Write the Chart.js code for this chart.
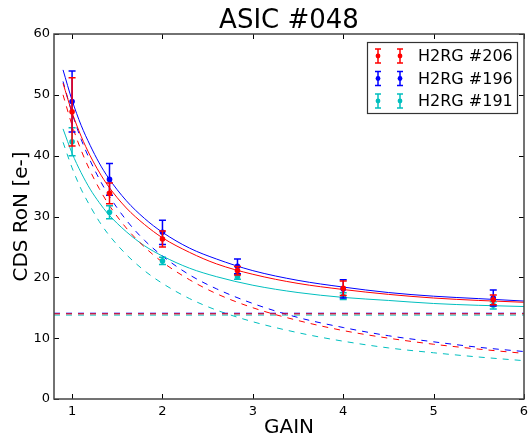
<!DOCTYPE html>
<html>
<head>
<meta charset="utf-8">
<script src="https://cdn.jsdelivr.net/npm/chart.js@4"></script>
<style>
  html, body { margin: 0; padding: 0; background: #fff; }
  canvas { display: block; }
</style>
</head>
<body>
<canvas id="ronChart" width="528" height="437"></canvas>
<script>
// measured points
const gains = [1, 1.414, 2, 2.83, 4, 5.66];
const seriesNames = ["H2RG #206", "H2RG #196", "H2RG #191"];
const seriesColors = ["#ff0000", "#0000ff", "#00bfbf"];

const ron206 = [47.2, 33.8, 26.3, 21.1, 18.2, 16.3];
const err206 = [5.6, 1.7, 1.3, 0.7, 1.2, 0.8];
const ron196 = [48.9, 36.1, 27.4, 21.8, 18.1, 16.6];
const err196 = [5.0, 2.6, 2.0, 1.2, 1.5, 1.3];
const ron191 = [42.3, 30.7, 22.7, 20.1, 16.9, 15.4];
const err191 = [2.3, 1.05, 0.6, 0.4, 0.55, 0.6];

// fitted curves
const fitGain = [0.9, 1, 1.1, 1.2, 1.3, 1.4, 1.6, 1.8, 2, 2.3, 2.6, 3, 3.5, 4, 4.5, 5, 5.5, 6];
const fit206 = [51.9, 47.1, 43.2, 40.0, 37.3, 35.0, 31.4, 28.7, 26.5, 24.1, 22.2, 20.5, 19.0, 18.0, 17.2, 16.6, 16.2, 15.9];
const gain206 = [50.0, 45.0, 40.9, 37.5, 34.6, 32.1, 28.1, 25.0, 22.5, 19.6, 17.3, 15.0, 12.9, 11.25, 10.0, 9.0, 8.2, 7.5];
const fit196 = [54.1, 49.1, 45.0, 41.7, 38.8, 36.4, 32.6, 29.7, 27.4, 24.8, 23.0, 21.1, 19.5, 18.4, 17.5, 16.9, 16.5, 16.1];
const gain196 = [52.2, 47.0, 42.7, 39.2, 36.2, 33.6, 29.4, 26.1, 23.5, 20.4, 18.1, 15.7, 13.4, 11.75, 10.4, 9.4, 8.5, 7.8];
const fit191 = [44.4, 40.4, 37.2, 34.5, 32.3, 30.4, 27.5, 25.2, 23.5, 21.5, 20.1, 18.7, 17.5, 16.7, 16.2, 15.7, 15.4, 15.2];
const gain191 = [42.2, 38.0, 34.5, 31.7, 29.2, 27.1, 23.75, 21.1, 19.0, 16.5, 14.6, 12.7, 10.9, 9.5, 8.4, 7.6, 6.9, 6.3];
const floorLevels = [14.0, 14.1, 13.8];

const xRange = [0.8, 6];
const xTicks = [1, 2, 3, 4, 5, 6];
const yTicks = [0, 10, 20, 30, 40, 50, 60];
const chartTitle = "ASIC #048";

const measured = [ron206, ron196, ron191];
const errors = [err206, err196, err191];
const fits = [fit206, fit196, fit191];
const gainTerms = [gain206, gain196, gain191];

function pts(xs, ys) {
    return xs.map((x, i) => ({ x: x, y: ys[i] }));
}

const datasets = [];
seriesNames.forEach((name, k) => {
    const c = seriesColors[k];
    datasets.push({
        type: "scatter", label: name, data: pts(gains, measured[k]), errors: errors[k],
        borderColor: c, backgroundColor: c, pointRadius: 2.8, borderWidth: 0, order: 1
    });
    datasets.push({
        type: "line", data: pts(fitGain, fits[k]), borderColor: c, borderWidth: 1,
        pointRadius: 0, cubicInterpolationMode: "monotone", order: 2
    });
    datasets.push({
        type: "line", data: pts(fitGain, gainTerms[k]), borderColor: c, borderWidth: 1,
        borderDash: [6, 6], pointRadius: 0, cubicInterpolationMode: "monotone", order: 2
    });
    datasets.push({
        type: "line", data: pts(xRange, [floorLevels[k], floorLevels[k]]), borderColor: c,
        borderWidth: 1, borderDash: [6, 6], pointRadius: 0, order: 2
    });
});

// error bars go under each marker set
const errorBarPlugin = {
    id: "errorBars",
    beforeDatasetDraw(chart, args) {
        const ds = chart.data.datasets[args.index];
        if (!ds.errors) return;
        const ctx = chart.ctx, xs = chart.scales.x, ys = chart.scales.y;
        ctx.save();
        ctx.strokeStyle = ds.borderColor;
        ctx.lineWidth = 1.5;
        ds.data.forEach((p, i) => {
            const px = xs.getPixelForValue(p.x);
            const top = ys.getPixelForValue(p.y + ds.errors[i]);
            const bot = ys.getPixelForValue(p.y - ds.errors[i]);
            ctx.beginPath();
            ctx.moveTo(px, top); ctx.lineTo(px, bot);
            ctx.moveTo(px - 3.5, top); ctx.lineTo(px + 3.5, top);
            ctx.moveTo(px - 3.5, bot); ctx.lineTo(px + 3.5, bot);
            ctx.stroke();
        });
        ctx.restore();
    }
};

// title over the plot box, box with inward ticks on all four sides, legend
const framePlugin = {
    id: "frame",
    afterDraw(chart) {
        const ctx = chart.ctx, a = chart.chartArea, xs = chart.scales.x, ys = chart.scales.y;
        ctx.save();
        ctx.fillStyle = "#000";
        ctx.font = "26px 'DejaVu Sans'";
        ctx.textAlign = "center";
        ctx.textBaseline = "middle";
        ctx.fillText(chartTitle, (a.left + a.right) / 2, 21);

        ctx.strokeStyle = "#000";
        ctx.lineWidth = 1;
        ctx.beginPath();
        xTicks.forEach(v => {
            const px = Math.round(xs.getPixelForValue(v)) + 0.5;
            ctx.moveTo(px, a.bottom); ctx.lineTo(px, a.bottom - 5);
            ctx.moveTo(px, a.top); ctx.lineTo(px, a.top + 5);
        });
        yTicks.forEach(v => {
            const py = Math.round(ys.getPixelForValue(v)) + 0.5;
            ctx.moveTo(a.left, py); ctx.lineTo(a.left + 5, py);
            ctx.moveTo(a.right, py); ctx.lineTo(a.right - 5, py);
        });
        ctx.stroke();
        ctx.strokeStyle = "#444";
        ctx.lineWidth = 1.5;
        ctx.strokeRect(a.left, a.top, a.right - a.left, a.bottom - a.top);

        // legend
        const lx = a.right - 157, ly = a.top + 8;
        ctx.fillStyle = "#fff";
        ctx.fillRect(lx, ly, 150, 71);
        ctx.strokeStyle = "#333";
        ctx.lineWidth = 1.2;
        ctx.strokeRect(lx + 0.5, ly + 0.5, 150, 71);
        ctx.font = "16px 'DejaVu Sans'";
        ctx.textAlign = "left";
        ctx.textBaseline = "middle";
        seriesNames.forEach((name, k) => {
            const ry = ly + 14 + k * 22.5;
            ctx.strokeStyle = seriesColors[k];
            ctx.fillStyle = seriesColors[k];
            ctx.lineWidth = 1.5;
            [lx + 11, lx + 33].forEach(mx => {
                ctx.beginPath();
                ctx.moveTo(mx, ry - 7); ctx.lineTo(mx, ry + 7);
                ctx.moveTo(mx - 3, ry - 7); ctx.lineTo(mx + 3, ry - 7);
                ctx.moveTo(mx - 3, ry + 7); ctx.lineTo(mx + 3, ry + 7);
                ctx.stroke();
                ctx.beginPath();
                ctx.arc(mx, ry, 2.4, 0, Math.PI * 2);
                ctx.fill();
            });
            ctx.fillStyle = "#000";
            ctx.fillText(name, lx + 51, ry + 1);
        });
        ctx.restore();
    }
};

Chart.defaults.font.family = "'DejaVu Sans', sans-serif";
Chart.defaults.color = "#000";

new Chart(document.getElementById("ronChart").getContext("2d"), {
    data: { datasets: datasets },
    options: {
        responsive: false,
        animation: false,
        layout: { padding: { left: 0, right: 4, top: 34, bottom: 0 } },
        plugins: {
            legend: { display: false },
            tooltip: { enabled: false },
            title: { display: false }
        },
        scales: {
            x: {
                type: "linear",
                min: xRange[0],
                max: xRange[1],
                afterBuildTicks: s => { s.ticks = xTicks.map(v => ({ value: v })); },
                afterFit: s => { s.height = 38; s.paddingLeft = 0; s.paddingRight = 0; },
                grid: { display: false, drawTicks: false },
                border: { display: false },
                ticks: { font: { size: 13 }, padding: 5, maxRotation: 0, callback: v => v },
                title: { display: true, text: "GAIN", font: { size: 20, lineHeight: 0.9 }, padding: 0 }
            },
            y: {
                type: "linear",
                min: 0,
                max: 60,
                afterBuildTicks: s => { s.ticks = yTicks.map(v => ({ value: v })); },
                afterFit: s => { s.width = 54; s.paddingTop = 0; s.paddingBottom = 0; },
                grid: { display: false, drawTicks: false },
                border: { display: false },
                ticks: { font: { size: 13 }, padding: 4, callback: v => v },
                title: { display: true, text: "CDS RoN [e-]", font: { size: 20 }, padding: { top: 10 } }
            }
        }
    },
    plugins: [errorBarPlugin, framePlugin]
});
</script>
</body>
</html>
